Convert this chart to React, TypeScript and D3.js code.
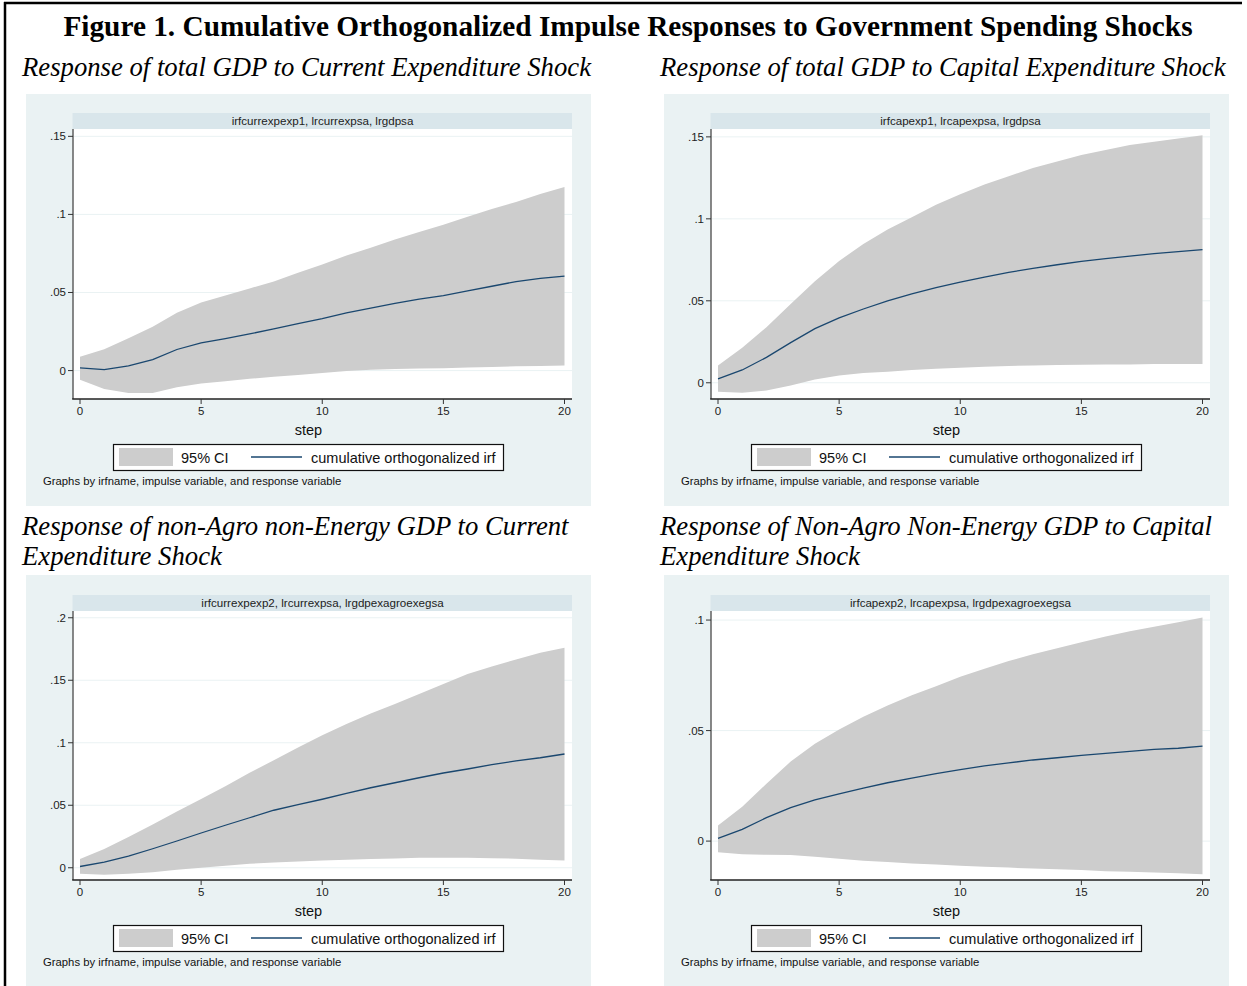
import React from "react";
import * as d3 from "d3";

const STEPS = [0, 1, 2, 3, 4, 5, 6, 7, 8, 9, 10, 11, 12, 13, 14, 15, 16, 17, 18, 19, 20];
const X_TICKS = [0, 5, 10, 15, 20];

// Panel 1: total GDP <- current expenditure
const IRF_1 = [0.0017, 0.0006, 0.003, 0.007, 0.0135, 0.0177, 0.0205, 0.0235, 0.0267, 0.03, 0.0333, 0.037, 0.04, 0.043, 0.0457, 0.048, 0.051, 0.054, 0.057, 0.059, 0.0605];
const HI_1 = [0.0088, 0.0137, 0.0207, 0.028, 0.037, 0.0436, 0.048, 0.0526, 0.057, 0.0626, 0.068, 0.0737, 0.0786, 0.084, 0.0887, 0.0934, 0.0985, 0.1034, 0.108, 0.113, 0.1175];
const LO_1 = [-0.0058, -0.0118, -0.0143, -0.0143, -0.0107, -0.0083, -0.0068, -0.0053, -0.004, -0.0028, -0.0015, -0.0002, 0.0006, 0.001, 0.0013, 0.0015, 0.0019, 0.0023, 0.0028, 0.003, 0.0032];
const Y_TICKS_1 = [0, 0.05, 0.1, 0.15];
const Y_LABELS_1 = ["0", ".05", ".1", ".15"];

// Panel 2: total GDP <- capital expenditure
const IRF_2 = [0.0024, 0.0078, 0.0155, 0.0245, 0.033, 0.0396, 0.045, 0.05, 0.0543, 0.058, 0.0614, 0.0645, 0.0673, 0.0698, 0.072, 0.074, 0.0757, 0.0773, 0.0788, 0.08, 0.0812];
const HI_2 = [0.0106, 0.0214, 0.0339, 0.048, 0.062, 0.0743, 0.0847, 0.0935, 0.101, 0.1086, 0.115, 0.121, 0.126, 0.131, 0.135, 0.139, 0.142, 0.145, 0.147, 0.149, 0.151];
const LO_2 = [-0.0055, -0.0061, -0.0047, -0.0016, 0.002, 0.0045, 0.006, 0.0067, 0.0078, 0.0086, 0.0092, 0.0098, 0.0102, 0.0106, 0.0108, 0.011, 0.0112, 0.0112, 0.0114, 0.0114, 0.0114];
const Y_TICKS_2 = [0, 0.05, 0.1, 0.15];
const Y_LABELS_2 = ["0", ".05", ".1", ".15"];

// Panel 3: non-agro non-energy GDP <- current expenditure
const IRF_3 = [0.001, 0.0045, 0.0093, 0.0152, 0.0214, 0.0278, 0.034, 0.04, 0.046, 0.0505, 0.0548, 0.0595, 0.064, 0.068, 0.072, 0.0758, 0.079, 0.0825, 0.0855, 0.088, 0.091];
const HI_3 = [0.007, 0.015, 0.0246, 0.0347, 0.045, 0.055, 0.0652, 0.076, 0.086, 0.0962, 0.106, 0.115, 0.1234, 0.131, 0.139, 0.147, 0.155, 0.161, 0.1666, 0.172, 0.176];
const LO_3 = [-0.0048, -0.0056, -0.0048, -0.0035, -0.0016, 0.0, 0.0016, 0.0032, 0.0043, 0.005, 0.0059, 0.0064, 0.007, 0.0075, 0.008, 0.008, 0.008, 0.0077, 0.0072, 0.0064, 0.0059];
const Y_TICKS_3 = [0, 0.05, 0.1, 0.15, 0.2];
const Y_LABELS_3 = ["0", ".05", ".1", ".15", ".2"];

// Panel 4: non-agro non-energy GDP <- capital expenditure
const IRF_4 = [0.0012, 0.0053, 0.0106, 0.0151, 0.0186, 0.0214, 0.024, 0.0264, 0.0285, 0.0305, 0.0323, 0.034, 0.0354, 0.0367, 0.0377, 0.0388, 0.0397, 0.0406, 0.0415, 0.042, 0.043];
const HI_4 = [0.0071, 0.0155, 0.026, 0.036, 0.044, 0.0505, 0.0563, 0.0614, 0.066, 0.07, 0.0744, 0.078, 0.0815, 0.0845, 0.0873, 0.09, 0.0926, 0.0949, 0.097, 0.099, 0.1012];
const LO_4 = [-0.0051, -0.0059, -0.0062, -0.0063, -0.0071, -0.008, -0.0089, -0.0095, -0.0101, -0.0106, -0.0112, -0.0116, -0.012, -0.0124, -0.0127, -0.0131, -0.0136, -0.0139, -0.0142, -0.0145, -0.015];
const Y_TICKS_4 = [0, 0.05, 0.1];
const Y_LABELS_4 = ["0", ".05", ".1"];

const STRIP_TITLES = [
  "irfcurrexpexp1, lrcurrexpsa, lrgdpsa",
  "irfcapexp1, lrcapexpsa, lrgdpsa",
  "irfcurrexpexp2, lrcurrexpsa, lrgdpexagroexegsa",
  "irfcapexp2, lrcapexpsa, lrgdpexagroexegsa",
];
const Y_DOMAINS: [number, number][] = [
  [-0.0182, 0.1547],
  [-0.0099, 0.1548],
  [-0.0098, 0.2054],
  [-0.0176, 0.1041],
];

const FIG_TITLE = "Figure 1. Cumulative Orthogonalized Impulse Responses to Government Spending Shocks";
const LEGEND_CI = "95% CI";
const LEGEND_LINE = "cumulative orthogonalized irf";
const X_TITLE = "step";
const NOTE = "Graphs by irfname, impulse variable, and response variable";

const SANS = "'Liberation Sans', Arial, Helvetica, sans-serif";
const SERIF = "'Liberation Serif', 'Times New Roman', Times, serif";
const BG = "#EAF2F3";
const STRIP = "#D9E6EB";
const CI_FILL = "#CDCDCD";
const NAVY = "#1A476F";

type PanelProps = {
  bx: number;
  by: number;
  plotTop: number;
  title: string;
  irf: number[];
  hi: number[];
  lo: number[];
  yTicks: number[];
  yLabels: string[];
  yDomain: [number, number];
};

function Panel({ bx, by, plotTop, title, irf, hi, lo, yTicks, yLabels, yDomain }: PanelProps) {
  const W = 565;
  const H = 412;
  const plotLeft = 47;
  const plotRight = 546;
  const plotBottom = 305;
  const x = d3.scaleLinear().domain([0, 20]).range([54, 538.5]);
  const y = d3.scaleLinear().domain(yDomain).range([plotBottom, plotTop]);
  const rows = STEPS.map((s, i) => ({ s, irf: irf[i], hi: hi[i], lo: lo[i] }));
  const area = d3
    .area<{ s: number; hi: number; lo: number }>()
    .x((d) => x(d.s))
    .y0((d) => y(d.lo))
    .y1((d) => y(d.hi))
    .curve(d3.curveLinear);
  const line = d3
    .line<{ s: number; irf: number }>()
    .x((d) => x(d.s))
    .y((d) => y(d.irf))
    .curve(d3.curveLinear);
  const cx = W / 2;
  return (
    <g transform={`translate(${bx},${by})`}>
      <rect x={0} y={0} width={W} height={H} fill={BG} />
      <rect x={plotLeft - 0.5} y={plotTop - 16} width={plotRight - plotLeft + 0.5} height={16} fill={STRIP} />
      <text
        x={(plotLeft + plotRight) / 2}
        y={plotTop - 4}
        textAnchor="middle"
        fontFamily={SANS}
        fontSize={11.6}
        fill="#222"
      >
        {title}
      </text>
      <rect x={plotLeft} y={plotTop} width={plotRight - plotLeft} height={plotBottom - plotTop} fill="#fff" />
      {yTicks.map((t) => (
        <line key={"g" + t} x1={plotLeft} x2={plotRight} y1={y(t)} y2={y(t)} stroke={BG} strokeWidth={1} />
      ))}
      <path d={area(rows) || ""} fill={CI_FILL} />
      <path d={line(rows) || ""} fill="none" stroke={NAVY} strokeWidth={1.3} />
      {/* y axis */}
      <line x1={plotLeft} x2={plotLeft} y1={plotTop} y2={plotBottom} stroke="#6a6a6a" strokeWidth={1.6} />
      {yTicks.map((t, i) => (
        <g key={"y" + t}>
          <line x1={plotLeft - 5} x2={plotLeft} y1={y(t)} y2={y(t)} stroke="#333" strokeWidth={1} />
          <text
            x={plotLeft - 7}
            y={y(t) + 4}
            textAnchor="end"
            fontFamily={SANS}
            fontSize={11.5}
            fill="#222"
          >
            {yLabels[i]}
          </text>
        </g>
      ))}
      {/* x axis */}
      <line x1={plotLeft - 0.8} x2={plotRight} y1={plotBottom} y2={plotBottom} stroke="#222" strokeWidth={1.6} />
      {X_TICKS.map((t) => (
        <g key={"x" + t}>
          <line x1={x(t)} x2={x(t)} y1={plotBottom} y2={plotBottom + 5} stroke="#333" strokeWidth={1} />
          <text x={x(t)} y={plotBottom + 16} textAnchor="middle" fontFamily={SANS} fontSize={11.5} fill="#222">
            {t}
          </text>
        </g>
      ))}
      <text x={cx} y={341} textAnchor="middle" fontFamily={SANS} fontSize={14.5} fill="#111">
        {X_TITLE}
      </text>
      {/* legend */}
      <rect x={87.5} y={350.5} width={390} height={26} fill="#fff" stroke="#111" strokeWidth={1.2} />
      <rect x={93} y={354} width={54} height={18} fill={CI_FILL} />
      <text x={155} y={368.5} fontFamily={SANS} fontSize={14.5} fill="#111">
        {LEGEND_CI}
      </text>
      <line x1={225} x2={276} y1={363} y2={363} stroke={NAVY} strokeWidth={1.3} />
      <text x={285} y={368.5} fontFamily={SANS} fontSize={14.5} fill="#111">
        {LEGEND_LINE}
      </text>
      <text x={17} y={391} fontFamily={SANS} fontSize={11.3} fill="#111">
        {NOTE}
      </text>
    </g>
  );
}

export default function App() {
  const W = 1247;
  const H = 986;
  return (
    <svg
      width={W}
      height={H}
      viewBox={`0 0 ${W} ${H}`}
      style={{ position: "absolute", left: 0, top: 0, background: "#fff" }}
    >
      <rect x={0} y={0} width={W} height={H} fill="#fff" />
      <line x1={4} x2={1242} y1={3} y2={3} stroke="#000" strokeWidth={2.5} />
      <line x1={5} x2={5} y1={2} y2={H} stroke="#000" strokeWidth={2.5} />
      <text
        x={628}
        y={36}
        textAnchor="middle"
        fontFamily={SERIF}
        fontWeight="bold"
        fontSize={29.3}
        fill="#000"
      >
        {FIG_TITLE}
      </text>
      <g fontFamily={SERIF} fontStyle="italic" fontSize={26.7} fill="#000">
        <text x={22} y={76}>
          Response of total GDP to Current Expenditure Shock
        </text>
        <text x={660} y={76}>
          Response of total GDP to Capital Expenditure Shock
        </text>
        <text x={22} y={535}>
          Response of non-Agro non-Energy GDP to Current
        </text>
        <text x={22} y={565}>
          Expenditure Shock
        </text>
        <text x={660} y={535}>
          Response of Non-Agro Non-Energy GDP to Capital
        </text>
        <text x={660} y={565}>
          Expenditure Shock
        </text>
      </g>
      <Panel bx={26} by={94} plotTop={35} title={STRIP_TITLES[0]} irf={IRF_1} hi={HI_1} lo={LO_1} yTicks={Y_TICKS_1} yLabels={Y_LABELS_1} yDomain={Y_DOMAINS[0]} />
      <Panel bx={664} by={94} plotTop={35} title={STRIP_TITLES[1]} irf={IRF_2} hi={HI_2} lo={LO_2} yTicks={Y_TICKS_2} yLabels={Y_LABELS_2} yDomain={Y_DOMAINS[1]} />
      <Panel bx={26} by={575} plotTop={36} title={STRIP_TITLES[2]} irf={IRF_3} hi={HI_3} lo={LO_3} yTicks={Y_TICKS_3} yLabels={Y_LABELS_3} yDomain={Y_DOMAINS[2]} />
      <Panel bx={664} by={575} plotTop={36} title={STRIP_TITLES[3]} irf={IRF_4} hi={HI_4} lo={LO_4} yTicks={Y_TICKS_4} yLabels={Y_LABELS_4} yDomain={Y_DOMAINS[3]} />
    </svg>
  );
}
